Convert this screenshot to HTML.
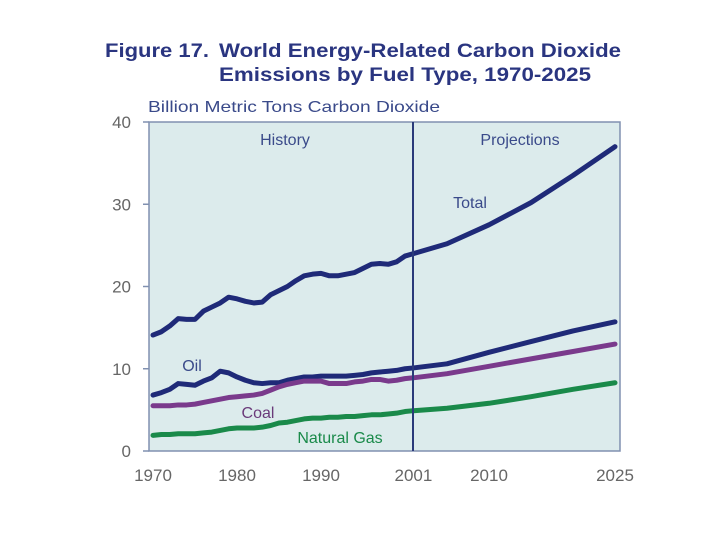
<!DOCTYPE html>
<html><head><meta charset="utf-8"><style>
body{margin:0;background:#fff;width:720px;height:540px;overflow:hidden;font-family:"Liberation Sans",sans-serif}
</style></head><body>
<svg width="720" height="540" id="svg">
<text x="105" y="57" font-size="19" font-weight="bold" fill="#2a3580" lengthAdjust="spacingAndGlyphs" textLength="104">Figure 17.</text>
<text x="219" y="57" font-size="19" font-weight="bold" fill="#2a3580" lengthAdjust="spacingAndGlyphs" textLength="402">World Energy-Related Carbon Dioxide</text>
<text x="219" y="81" font-size="19" font-weight="bold" fill="#2a3580" lengthAdjust="spacingAndGlyphs" textLength="372">Emissions by Fuel Type, 1970-2025</text>
<text x="148" y="112" font-size="16" fill="#3a4a8a" lengthAdjust="spacingAndGlyphs" textLength="292">Billion Metric Tons Carbon Dioxide</text>
<rect x="149" y="122" width="471" height="329" fill="#dcebec" stroke="#8090b0" stroke-width="1.5"/>
<g id="axes"></g>
<g id="series"></g>
<line x1="413" y1="122" x2="413" y2="451" stroke="#2a3a7a" stroke-width="2"/>
<text x="285" y="145" font-size="16" fill="#3a4a8a" text-anchor="middle">History</text>
<text x="520" y="145" font-size="16" fill="#3a4a8a" text-anchor="middle">Projections</text>
<text x="470" y="208" font-size="16" fill="#3a4a8a" text-anchor="middle">Total</text>
<text x="192" y="371" font-size="16" fill="#3a4a8a" text-anchor="middle">Oil</text>
<text x="258" y="418" font-size="16" fill="#6a3a7a" text-anchor="middle">Coal</text>
<text x="340" y="443" font-size="16" fill="#1a8a4a" text-anchor="middle">Natural Gas</text>
</svg>
<script>
const years=[1970,1971,1972,1973,1974,1975,1976,1977,1978,1979,1980,1981,1982,1983,1984,1985,1986,1987,1988,1989,1990,1991,1992,1993,1994,1995,1996,1997,1998,1999,2000,2001,2005,2010,2015,2020,2025];
const total=[14.1,14.5,15.2,16.1,16.0,16.0,17.0,17.5,18.0,18.7,18.5,18.2,18.0,18.1,19.0,19.5,20.0,20.7,21.3,21.5,21.6,21.3,21.3,21.5,21.7,22.2,22.7,22.8,22.7,23.0,23.7,24.0,25.2,27.5,30.2,33.5,37.0];
const oil=[6.8,7.1,7.5,8.2,8.1,8.0,8.5,8.9,9.7,9.5,9.0,8.6,8.3,8.2,8.3,8.3,8.6,8.8,9.0,9.0,9.1,9.1,9.1,9.1,9.2,9.3,9.5,9.6,9.7,9.8,10.0,10.1,10.6,12.0,13.3,14.6,15.7];
const coal=[5.5,5.5,5.5,5.6,5.6,5.7,5.9,6.1,6.3,6.5,6.6,6.7,6.8,7.0,7.4,7.8,8.1,8.3,8.5,8.5,8.5,8.2,8.2,8.2,8.4,8.5,8.7,8.7,8.5,8.6,8.8,8.9,9.4,10.3,11.2,12.1,13.0];
const gas=[1.9,2.0,2.0,2.1,2.1,2.1,2.2,2.3,2.5,2.7,2.8,2.8,2.8,2.9,3.1,3.4,3.5,3.7,3.9,4.0,4.0,4.1,4.1,4.2,4.2,4.3,4.4,4.4,4.5,4.6,4.8,4.9,5.2,5.8,6.6,7.5,8.3];
const yTicks=[0,10,20,30,40];
const xTicks=[1970,1980,1990,2001,2010,2025];
const NS="http://www.w3.org/2000/svg";
const x=v=>153+(v-1970)*(462/55);
const y=v=>451-v*(329/40);
const ax=document.getElementById('axes'), sg=document.getElementById('series');
function mk(tag,attrs,parent){const e=document.createElementNS(NS,tag);for(const k in attrs)e.setAttribute(k,attrs[k]);parent.appendChild(e);return e;}
yTicks.forEach(t=>{
  const l=mk('line',{x1:143,x2:149,y1:y(t),y2:y(t),stroke:'#8090b0','stroke-width':1.5},ax);
  
  
  const tx=mk('text',{x:131,y:y(t)+6,'font-size':17,fill:'#666','text-anchor':'end'},ax);
  tx.textContent=t;
  
  
});
xTicks.forEach(t=>{
  const tx=mk('text',{x:x(t),y:481,'font-size':17,fill:'#666','text-anchor':'middle'},ax);
  tx.textContent=t;
  
  
});
[[total,'#1f2a78','total-line'],[oil,'#1f2a78','oil-line'],[coal,'#7a3a8c','coal-line'],[gas,'#1a8a4a','natural-gas-line']].forEach(([d,c,n])=>{
  const p=mk('polyline',{points:d.map((v,i)=>x(years[i])+','+y(v)).join(' '),fill:'none',stroke:c,'stroke-width':5,'stroke-linejoin':'round','stroke-linecap':'round'},sg);
  
  
});
</script>
</body></html>
